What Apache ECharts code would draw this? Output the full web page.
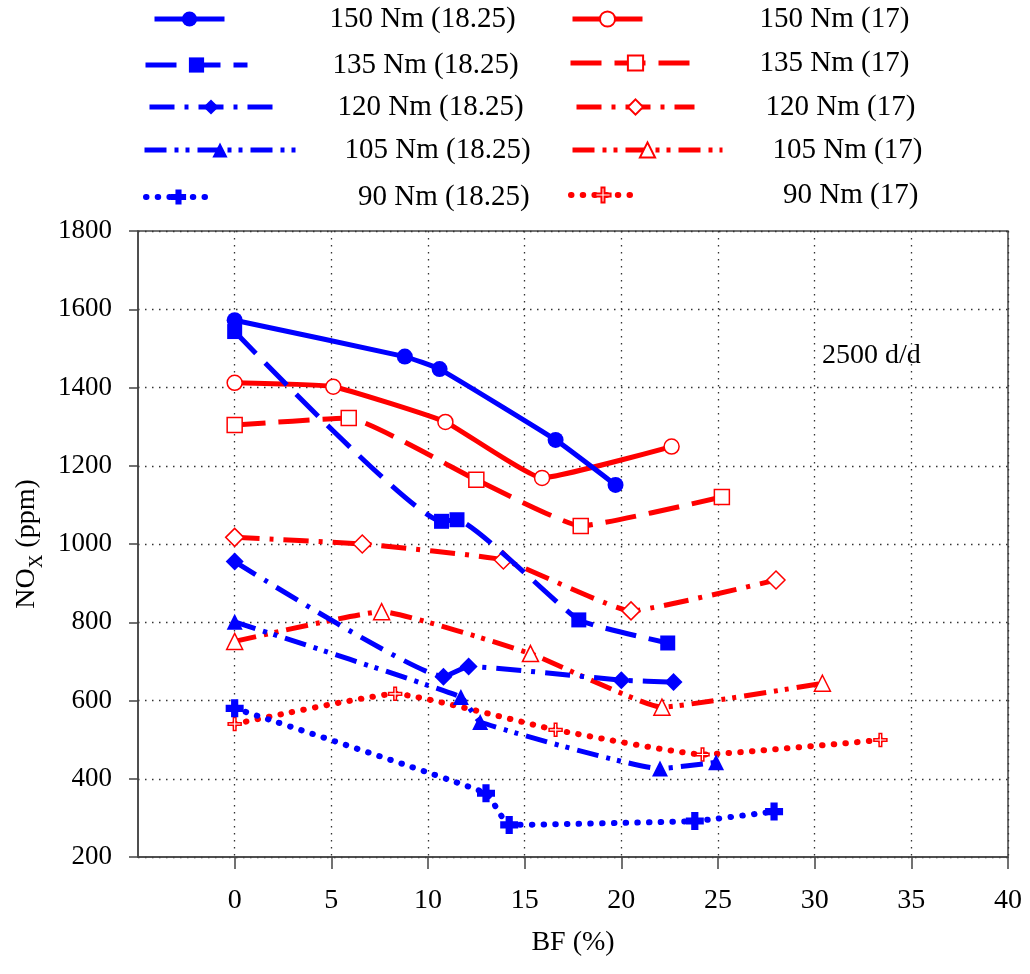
<!DOCTYPE html>
<html>
<head>
<meta charset="utf-8">
<script src="https://cdn.jsdelivr.net/npm/echarts@6/dist/echarts.min.js"></script>
<style>
  html, body { margin: 0; padding: 0; background: #fff; }
  #chart { width: 1030px; height: 974px; }
</style>
</head>
<body>
<div id="chart"></div>
<script>
// 图例名称
const seriesNames = [
  "150 Nm (18.25)", "135 Nm (18.25)", "120 Nm (18.25)", "105 Nm (18.25)", "90 Nm (18.25)",
  "150 Nm (17)", "135 Nm (17)", "120 Nm (17)", "105 Nm (17)", "90 Nm (17)"
];

// BF (%) / NOx (ppm) values, CR 18.25
const bf150a = [0, 8.8, 10.6, 16.6, 19.7];
const nox150a = [1572, 1479, 1447, 1266, 1151];
const bf135a = [0, 10.7, 11.5, 17.8, 22.4];
const nox135a = [1543, 1058, 1062, 806, 747];
const bf120a = [0, 10.8, 12.1, 20.0, 22.7];
const nox120a = [955, 661, 687, 652, 647];
const bf105a = [0, 11.7, 12.7, 22.0, 24.9];
const nox105a = [801, 609, 545, 426, 442];
const bf90a = [0, 13.0, 14.2, 23.8, 27.9];
const nox90a = [580, 363, 282, 292, 316];

// CR 17
const bf150b = [0, 5.1, 10.9, 15.9, 22.6];
const nox150b = [1412, 1402, 1312, 1169, 1249];
const bf135b = [0, 5.9, 12.5, 17.9, 25.2];
const nox135b = [1304, 1322, 1164, 1046, 1120];
const bf120b = [0, 6.6, 13.9, 20.5, 28.0];
const nox120b = [1017, 1000, 959, 829, 908];
const bf105b = [0, 7.6, 15.3, 22.1, 30.4];
const nox105b = [751, 827, 720, 583, 644];
const bf90b = [0, 8.3, 16.6, 24.2, 33.4];
const nox90b = [540, 617, 525, 462, 499];

const xTicks = [0, 5, 10, 15, 20, 25, 30, 35, 40];

const xs = [bf150a, bf135a, bf120a, bf105a, bf90a, bf150b, bf135b, bf120b, bf105b, bf90b];
const ys = [nox150a, nox135a, nox120a, nox105a, nox90a, nox150b, nox135b, nox120b, nox105b, nox90b];

const FONT = "Liberation Serif";
const BLUE = "#0000ff";
const RED = "#ff0000";
const plusFat = "path://M3,0H7V3H10V7H7V10H3V7H0V3H3Z";
const plusThin = "path://M4,0H6V4H10V6H6V10H4V6H0V4H4Z";

// 线型: solid / dash / dash-dot / dash-dot-dot / dot
const dashTypes = ["solid", [31, 13], [25, 10, 4, 10], [22, 8, 4, 7, 4, 8], [0.5, 11.2]];
const blueSymbols = ["circle", "rect", "diamond", "triangle", plusFat];
const redSymbols = ["circle", "rect", "diamond", "triangle", plusThin];
const blueSizes = [16, 15, 18, 16, 18];
const redSizes = [15, 15, 18, 16, 13];

// legend placement: [iconLeft, iconWidth, textLeft, centerY]
const legendPos = [
  [152, 70, 327, 19], [143, 102, 330, 65], [147, 123, 335, 107], [142, 151, 342, 150], [143, 65, 355, 197],
  [570, 70, 757, 19], [568, 130, 757, 63], [574, 118, 763, 107], [570, 150, 770, 150], [568, 64, 780, 195]
];

const series = seriesNames.map(function (name, i) {
  const k = i % 5;
  const isBlue = i < 5;
  const color = isBlue ? BLUE : RED;
  return {
    name: name,
    type: "line",
    smooth: 0.12,
    data: xs[i].map(function (x, j) { return [x, ys[i][j]]; }),
    symbol: isBlue ? blueSymbols[k] : redSymbols[k],
    symbolSize: isBlue ? blueSizes[k] : redSizes[k],
    showAllSymbol: true,
    lineStyle: {
      color: color,
      width: k === 4 ? 6 : 5,
      type: dashTypes[k],
      cap: k === 4 ? "round" : "butt"
    },
    itemStyle: isBlue
      ? { color: BLUE, borderColor: BLUE, borderWidth: 0 }
      : { color: "#ffffff", borderColor: RED, borderWidth: 1.5 },
    emphasis: { disabled: true },
    z: isBlue ? 3 : 2
  };
});

const legends = legendPos.map(function (p, i) {
  const k = i % 5;
  return {
    data: [seriesNames[i]],
    left: p[0],
    top: p[3] - 16,
    padding: 0,
    itemWidth: p[1],
    itemHeight: 19,
    itemGap: 0,
    selectedMode: false,
    lineStyle: {
      width: k === 4 ? 6 : 5,
      type: dashTypes[k],
      cap: k === 4 ? "round" : "butt"
    },
    textStyle: {
      fontFamily: FONT,
      fontSize: 29,
      color: "#000",
      lineHeight: 32,
      padding: [0, 0, 0, p[2] - p[0] - p[1] - 5]
    }
  };
});

const chart = echarts.init(document.getElementById("chart"));
chart.setOption({
  animation: false,
  backgroundColor: "#fff",
  legend: legends,
  grid: {
    left: 138,
    right: 22,
    top: 231,
    bottom: 117,
    show: true,
    borderColor: "#444",
    borderWidth: 1.5,
    containLabel: false,
    outerBoundsMode: "none"
  },
  xAxis: {
    type: "value",
    min: -5,
    max: 40,
    interval: 5,
    name: "BF (%)",
    nameLocation: "middle",
    nameGap: 72,
    nameTextStyle: { fontFamily: FONT, fontSize: 28, color: "#000" },
    axisLine: { show: true, onZero: false, lineStyle: { color: "#444", width: 1.5 } },
    axisTick: { show: true, inside: false, length: 12, customValues: xTicks, lineStyle: { color: "#444", width: 1.5 } },
    axisLabel: { customValues: xTicks, margin: 30, fontFamily: FONT, fontSize: 28, color: "#000" },
    splitLine: { show: true, lineStyle: { color: "#333", width: 1.3, type: [1.5, 5.5] } }
  },
  yAxis: {
    type: "value",
    min: 200,
    max: 1800,
    interval: 200,
    name: "{a|NO}{s|X}{a| (ppm)}",
    nameLocation: "middle",
    nameGap: 95,
    nameTextStyle: {
      color: "#000",
      rich: {
        a: { fontFamily: FONT, fontSize: 28, color: "#000", lineHeight: 30, verticalAlign: "top" },
        s: { fontFamily: FONT, fontSize: 19, color: "#000", lineHeight: 19, verticalAlign: "top", padding: [15, 0, 0, 0] }
      }
    },
    axisLine: { show: true, onZero: false, lineStyle: { color: "#444", width: 1.5 } },
    axisTick: { show: true, inside: false, length: 9, lineStyle: { color: "#444", width: 1.5 } },
    axisLabel: {
      margin: 26, fontFamily: FONT, fontSize: 27, color: "#000",
      formatter: function (v) { return String(v); }
    },
    splitLine: { show: true, lineStyle: { color: "#333", width: 1.3, type: [1.5, 5.5] } }
  },
  graphic: [{
    type: "text",
    left: 822,
    top: 342,
    style: { text: "2500 d/d", fontFamily: FONT, fontSize: 28, fill: "#000" }
  }],
  series: series
});
</script>
</body>
</html>
